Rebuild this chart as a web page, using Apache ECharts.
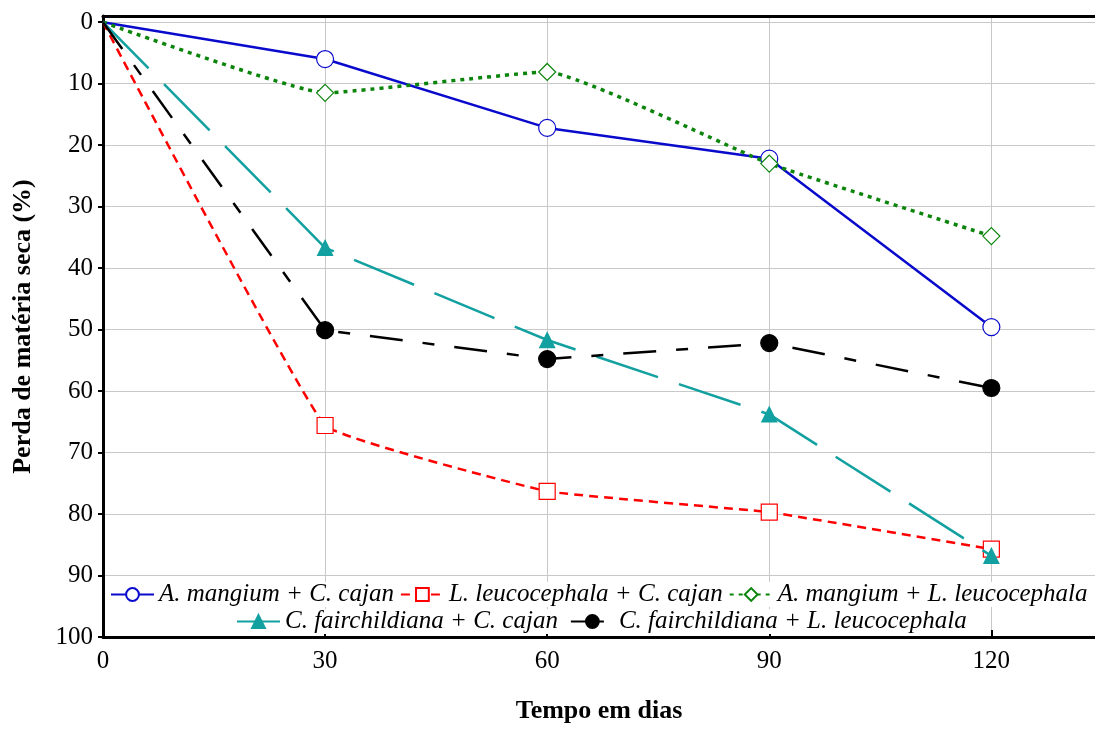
<!DOCTYPE html>
<html><head><meta charset="utf-8">
<script src="https://cdn.jsdelivr.net/npm/echarts@6/dist/echarts.min.js"></script>
<style>html,body{margin:0;padding:0;background:#fff}#c{width:1095px;height:729px}</style>
</head><body><div id="c"></div>
<script>
const days = [0, 30, 60, 90, 120];
const yTicks = [0, 10, 20, 30, 40, 50, 60, 70, 80, 90, 100];
const names = ['A. mangium + C. cajan', 'L. leucocephala + C. cajan', 'A. mangium + L. leucocephala',
               'C. fairchildiana + C. cajan', 'C. fairchildiana + L. leucocephala'];
const amCc = [0, 6.0, 17.2, 22.2, 49.6];
const llCc = [0, 65.6, 76.3, 79.7, 85.7];
const amLl = [0, 11.5, 8.1, 23.0, 34.8];
const cfCc = [0, 36.7, 51.7, 63.8, 86.8];
const cfLl = [0, 50.1, 54.8, 52.2, 59.5];

const FONT = 'Liberation Serif';
function pts(vals) {
  return days.map((d, i) => i === 0 ? { value: [d, vals[i]], symbol: 'none' } : [d, vals[i]]);
}
const styles = [
  { c: '#0a0acc', sym: 'circle', size: 17, fill: '#fff', w: 2.5, type: 'solid', smooth: false },
  { c: '#ff0000', sym: 'rect', size: 16, fill: '#fff', w: 2.5, type: [9, 6], smooth: 0.08 },
  { c: '#0b840b', sym: 'diamond', size: 17, fill: '#fff', w: 3.5, type: [4, 5], smooth: 0.12 },
  { c: '#12a0a0', sym: 'triangle', size: 15, fill: '#12a0a0', w: 2.5, type: [65, 22], smooth: false },
  { c: '#000000', sym: 'circle', size: 17, fill: '#000', w: 2.5, type: [33, 20, 12, 20], smooth: false }
];
const values = [amCc, llCc, amLl, cfCc, cfLl];
const series = values.map((v, i) => {
  const s = styles[i];
  return {
    name: names[i], type: 'line', data: pts(v), smooth: s.smooth,
    symbol: s.sym, symbolSize: s.size, showSymbol: true,
    lineStyle: { color: s.c, width: s.w, type: s.type },
    itemStyle: { color: s.fill, borderColor: s.c, borderWidth: 1.2 },
    emphasis: { disabled: true }, z: 2 + i
  };
});
const legendText = { fontFamily: FONT, fontStyle: 'italic', fontSize: 25, color: '#000', lineHeight: 24 };
const chart = echarts.init(document.getElementById('c'), null, { renderer: 'canvas' });
chart.setOption({
  animation: false,
  backgroundColor: '#fff',
  grid: { left: 103, right: 0, top: 16, bottom: 87, containLabel: false },
  legend: [
    { data: names.slice(0, 3), left: 110, top: 582, width: 990, itemWidth: 43, itemHeight: 16, itemGap: 6,
      textStyle: legendText, backgroundColor: '#fff', padding: 0 },
    { data: names.slice(3), left: 236, top: 609, width: 800, itemWidth: 43, itemHeight: 16, itemGap: 12,
      textStyle: legendText, backgroundColor: '#fff', padding: 0 }
  ],
  xAxis: [
    { type: 'value', min: 0, max: 134, interval: 30, position: 'bottom',
      name: 'Tempo em dias', nameLocation: 'middle', nameGap: 61,
      nameTextStyle: { fontFamily: FONT, fontWeight: 'bold', fontSize: 26, color: '#000' },
      axisLine: { show: true, onZero: false, lineStyle: { color: '#000', width: 3 } },
      axisTick: { show: true, inside: true, length: 7, lineStyle: { color: '#000', width: 2 } },
      axisLabel: { fontFamily: FONT, fontSize: 25, color: '#000', margin: 12, showMaxLabel: false },
      splitLine: { show: true, lineStyle: { color: '#c8c8c8', width: 1 } } },
    { type: 'value', min: 0, max: 134, position: 'top',
      axisLine: { show: true, onZero: false, lineStyle: { color: '#000', width: 3 } },
      axisTick: { show: false }, axisLabel: { show: false }, splitLine: { show: false } }
  ],
  yAxis: {
    type: 'value', inverse: true, min: -1, max: 100,
    name: 'Perda de matéria seca (%)', nameLocation: 'middle', nameGap: 67, nameRotate: 90,
    nameTextStyle: { fontFamily: FONT, fontWeight: 'bold', fontSize: 26, color: '#000' },
    axisLine: { show: true, onZero: false, lineStyle: { color: '#000', width: 3 } },
    axisTick: { show: true, inside: false, length: 5, customValues: yTicks, lineStyle: { color: '#000', width: 2 } },
    axisLabel: { fontFamily: FONT, fontSize: 25, color: '#000', margin: 10, customValues: yTicks },
    splitLine: { show: true, lineStyle: { color: '#c8c8c8', width: 1 } }
  },
  series: series
});
</script></body></html>
